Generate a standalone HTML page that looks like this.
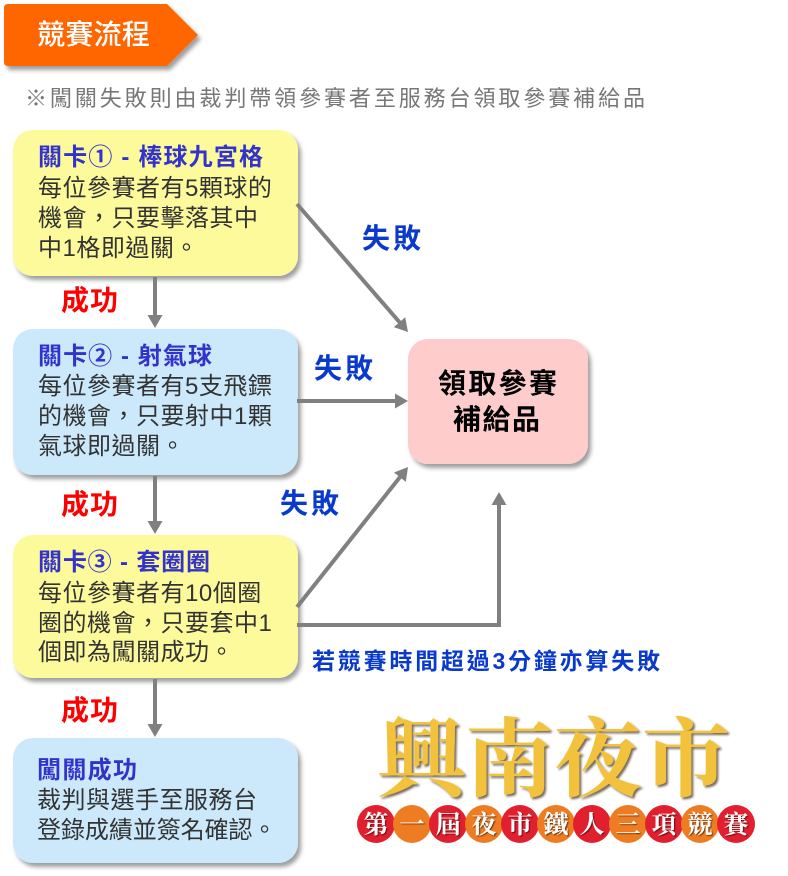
<!DOCTYPE html>
<html>
<head>
<meta charset="utf-8">
<style>
  html,body{margin:0;padding:0;background:#fff;}
  svg{display:block;}
  .s{font-family:"Liberation Sans","Noto Sans CJK TC","Noto Sans CJK SC",sans-serif;}
  .r{font-family:"Liberation Serif","Noto Serif CJK SC",serif;}
</style>
</head>
<body>
<svg width="788" height="876" viewBox="0 0 788 876" xmlns="http://www.w3.org/2000/svg">
  <defs>
    <filter id="sh" x="-10%" y="-10%" width="130%" height="130%">
      <feDropShadow dx="3" dy="4" stdDeviation="2" flood-color="#000" flood-opacity="0.38"/>
    </filter>
    <filter id="ts" x="-5%" y="-5%" width="115%" height="120%">
      <feDropShadow dx="2" dy="2" stdDeviation="1" flood-color="#3a2a10" flood-opacity="0.7"/>
    </filter>
    <filter id="ts2" x="-10%" y="-10%" width="130%" height="130%">
      <feDropShadow dx="1" dy="1" stdDeviation="0.6" flood-color="#000" flood-opacity="0.6"/>
    </filter>
  </defs>
  <rect width="788" height="876" fill="#fff"/>

  <!-- header tab -->
  <path d="M8,4 H167 L198,35 L167,66 H8 Q4,66 4,62 V8 Q4,4 8,4 Z" fill="#ff6600" filter="url(#sh)"/>
  <text class="s" x="37" y="44" font-size="28" font-weight="500" fill="#fff" textLength="113" lengthAdjust="spacingAndGlyphs">競賽流程</text>

  <!-- subtitle -->
  <text class="s" x="25" y="106" font-size="22" fill="#777" textLength="620" lengthAdjust="spacing">※闖關失敗則由裁判帶領參賽者至服務台領取參賽補給品</text>

  <!-- boxes -->
  <rect x="13" y="130" width="285" height="146" rx="20" fill="#fdfa9c" filter="url(#sh)"/>
  <rect x="13" y="329" width="285" height="146" rx="20" fill="#cce9fc" filter="url(#sh)"/>
  <rect x="13" y="535" width="285" height="143" rx="20" fill="#fdfa9c" filter="url(#sh)"/>
  <rect x="13" y="738" width="285" height="125" rx="20" fill="#cce9fc" filter="url(#sh)"/>
  <rect x="408" y="339" width="180" height="125" rx="20" fill="#ffcccc" filter="url(#sh)"/>

  <!-- box 1 text -->
  <g class="s" font-size="24" fill="#333" letter-spacing="0.5">
    <text x="38" y="165" font-weight="bold" fill="#3333cc" textLength="225" lengthAdjust="spacing" letter-spacing="0">關卡① - 棒球九宮格</text>
    <text x="38" y="196">每位參賽者有5顆球的</text>
    <text x="38" y="226">機會，只要擊落其中</text>
    <text x="38" y="256">中1格即過關。</text>
  </g>
  <!-- box 2 text -->
  <g class="s" font-size="24" fill="#333" letter-spacing="0.5">
    <text x="38" y="364" font-weight="bold" fill="#3333cc" textLength="174" lengthAdjust="spacing" letter-spacing="0">關卡② - 射氣球</text>
    <text x="38" y="394">每位參賽者有5支飛鏢</text>
    <text x="38" y="424">的機會，只要射中1顆</text>
    <text x="38" y="454">氣球即過關。</text>
  </g>
  <!-- box 3 text -->
  <g class="s" font-size="24" fill="#333" letter-spacing="0.5">
    <text x="38" y="570" font-weight="bold" fill="#3333cc" textLength="172" lengthAdjust="spacing" letter-spacing="0">關卡③ - 套圈圈</text>
    <text x="38" y="601">每位參賽者有10個圈</text>
    <text x="38" y="631">圈的機會，只要套中1</text>
    <text x="38" y="660">個即為闖關成功。</text>
  </g>
  <!-- box 4 text -->
  <g class="s" font-size="24" fill="#333" letter-spacing="0.5">
    <text x="37" y="778" font-weight="bold" fill="#3333cc" textLength="100" lengthAdjust="spacing" letter-spacing="0">闖關成功</text>
    <text x="37" y="808">裁判與選手至服務台</text>
    <text x="37" y="838" textLength="240" lengthAdjust="spacing">登錄成績並簽名確認。</text>
  </g>
  <!-- pink box text -->
  <g class="s" font-size="28" font-weight="bold" fill="#000">
    <text x="438" y="393" textLength="119" lengthAdjust="spacing">領取參賽</text>
    <text x="453" y="429" textLength="87" lengthAdjust="spacing">補給品</text>
  </g>

  <!-- connectors -->
  <g stroke="#808080" stroke-width="4" fill="none">
    <line x1="155" y1="277" x2="155" y2="320"/>
    <line x1="155" y1="476" x2="155" y2="526"/>
    <line x1="155" y1="679" x2="155" y2="729"/>
    <line x1="297" y1="401" x2="400" y2="401"/>
    <line x1="297" y1="204" x2="402.8" y2="326"/>
    <line x1="297" y1="607" x2="403" y2="473.3"/>
    <path d="M297,625 H499 V500" stroke-linejoin="miter"/>
  </g>
  <g fill="#808080">
    <polygon points="155,328 147.5,315 162.5,315"/>
    <polygon points="155,534 147.5,521 162.5,521"/>
    <polygon points="155,737 147.5,724 162.5,724"/>
    <polygon points="408,401 395,393.5 395,408.5"/>
    <polygon points="499,492 491.5,505 506.5,505"/>
    <polygon points="408,332 393.8,327.1 405.2,317.3"/>
    <polygon points="408,467 405.8,481.9 394,472.5"/>
  </g>

  <!-- labels -->
  <g class="s" font-size="28" font-weight="bold">
    <text x="61" y="310" fill="#ff0000" textLength="57" lengthAdjust="spacing">成功</text>
    <text x="61" y="514" fill="#ff0000" textLength="57" lengthAdjust="spacing">成功</text>
    <text x="61" y="720" fill="#ff0000" textLength="57" lengthAdjust="spacing">成功</text>
    <text x="362" y="248" fill="#0a3acb" textLength="59" lengthAdjust="spacing">失敗</text>
    <text x="314" y="378" fill="#0a3acb" textLength="59" lengthAdjust="spacing">失敗</text>
    <text x="280" y="513" fill="#0a3acb" textLength="59" lengthAdjust="spacing">失敗</text>
  </g>
  <text class="s" x="312" y="669" font-size="23" font-weight="bold" fill="#0a3acb" textLength="348" lengthAdjust="spacing">若競賽時間超過3分鐘亦算失敗</text>

  <!-- logo -->
  <text class="r" x="377" y="789" font-size="86" font-weight="bold" fill="#f2c23c" filter="url(#ts)" textLength="353" lengthAdjust="spacingAndGlyphs">興南夜市</text>

  <g>
    <circle cx="376" cy="824" r="19" fill="#e21f2e"/>
    <circle cx="412" cy="824" r="19" fill="#ee7c22"/>
    <circle cx="448" cy="824" r="19" fill="#e21f2e"/>
    <circle cx="484" cy="824" r="19" fill="#ee7c22"/>
    <circle cx="520" cy="824" r="19" fill="#e21f2e"/>
    <circle cx="556" cy="824" r="19" fill="#ee7c22"/>
    <circle cx="592" cy="824" r="19" fill="#e21f2e"/>
    <circle cx="628" cy="824" r="19" fill="#ee7c22"/>
    <circle cx="664" cy="824" r="19" fill="#e21f2e"/>
    <circle cx="700" cy="824" r="19" fill="#ee7c22"/>
    <circle cx="736" cy="824" r="19" fill="#e21f2e"/>
  </g>
  <g class="r" font-size="25" font-weight="bold" fill="#fff" text-anchor="middle" filter="url(#ts2)">
    <text x="376" y="833">第</text>
    <text x="412" y="833">一</text>
    <text x="448" y="833">屆</text>
    <text x="484" y="833">夜</text>
    <text x="520" y="833">市</text>
    <text x="556" y="833">鐵</text>
    <text x="592" y="833">人</text>
    <text x="628" y="833">三</text>
    <text x="664" y="833">項</text>
    <text x="700" y="833">競</text>
    <text x="736" y="833">賽</text>
  </g>
</svg>
</body>
</html>
